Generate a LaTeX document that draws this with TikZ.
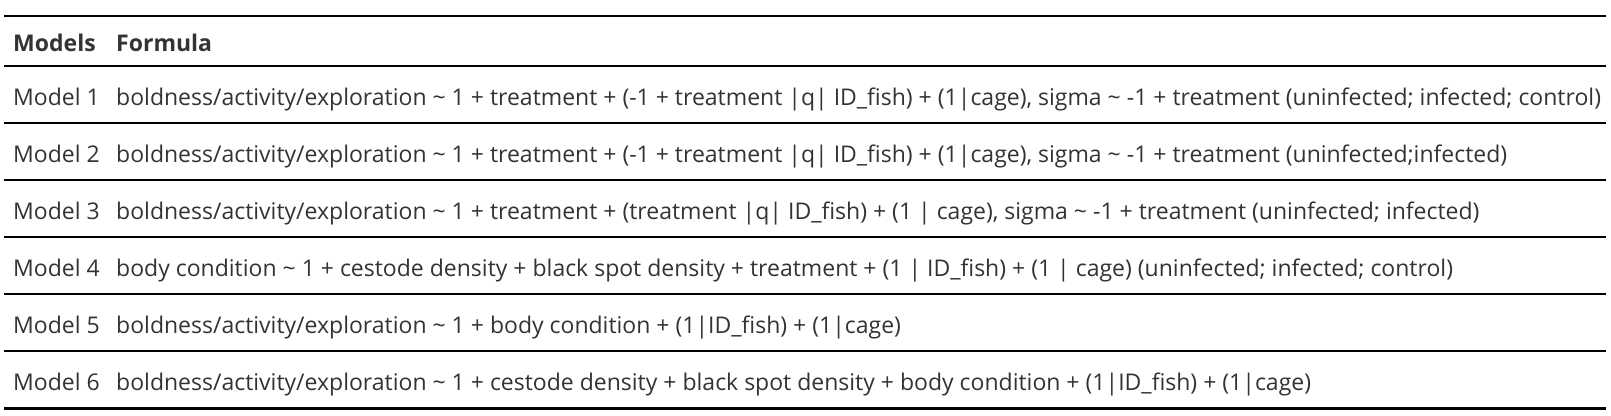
\documentclass[tikz,border=0pt]{standalone}
\usepackage{fontspec}
\setmainfont{Open Sans}
\definecolor{txt}{HTML}{333333}
\tikzset{
  cell/.style={anchor=base west, inner sep=0pt, text=txt, font=\fontsize{23}{27}\selectfont},
  head/.style={cell, font=\fontsize{23}{27}\selectfont\bfseries},
  rule/.style={line width=1.2pt, black},
  thickrule/.style={line width=3pt, black}
}
\begin{document}
\begin{tikzpicture}[x=1pt,y=-1pt]
\useasboundingbox (0,0) rectangle (1611,415);
% rules
\coordinate (l0a) at (4,16);  \coordinate (l0b) at (1606,16);
\coordinate (l1a) at (4,66);  \coordinate (l1b) at (1606,66);
\coordinate (l2a) at (4,123); \coordinate (l2b) at (1606,123);
\coordinate (l3a) at (4,180); \coordinate (l3b) at (1606,180);
\coordinate (l4a) at (4,237); \coordinate (l4b) at (1606,237);
\coordinate (l5a) at (4,294); \coordinate (l5b) at (1606,294);
\coordinate (l6a) at (4,351); \coordinate (l6b) at (1606,351);
\coordinate (l7a) at (4,408); \coordinate (l7b) at (1606,408);
\draw[rule] (l0a) -- (l0b);
\draw[rule] (l1a) -- (l1b);
\draw[rule] (l2a) -- (l2b);
\draw[rule] (l3a) -- (l3b);
\draw[rule] (l4a) -- (l4b);
\draw[rule] (l5a) -- (l5b);
\draw[rule] (l6a) -- (l6b);
\draw[thickrule] (l7a) -- (l7b);
% header
\node[head] (h1) at (13,51.7) {Models};
\node[head] (h2) at (116,51.7) {Formula};
% rows
\node[cell] (m1) at (13,105.5) {Model 1};
\node[cell] (f1) at (116,105.5) {boldness/activity/exploration \textasciitilde{} 1 + treatment + (-1 + treatment |q| ID\_fish) + (1|cage), sigma \textasciitilde{} -1 + treatment (uninfected; infected; control)};
\node[cell] (m2) at (13,162.5) {Model 2};
\node[cell] (f2) at (116,162.5) {boldness/activity/exploration \textasciitilde{} 1 + treatment + (-1 + treatment |q| ID\_fish) + (1|cage), sigma \textasciitilde{} -1 + treatment (uninfected;infected)};
\node[cell] (m3) at (13,219.5) {Model 3};
\node[cell] (f3) at (116,219.5) {boldness/activity/exploration \textasciitilde{} 1 + treatment + (treatment |q| ID\_fish) + (1 | cage), sigma \textasciitilde{} -1 + treatment (uninfected; infected)};
\node[cell] (m4) at (13,276.5) {Model 4};
\node[cell] (f4) at (116,276.5) {body condition \textasciitilde{} 1 + cestode density + black spot density + treatment + (1 | ID\_fish) + (1 | cage) (uninfected; infected; control)};
\node[cell] (m5) at (13,333.5) {Model 5};
\node[cell] (f5) at (116,333.5) {boldness/activity/exploration \textasciitilde{} 1 + body condition + (1|ID\_fish) + (1|cage)};
\node[cell] (m6) at (13,390.5) {Model 6};
\node[cell] (f6) at (116,390.5) {boldness/activity/exploration \textasciitilde{} 1 + cestode density + black spot density + body condition + (1|ID\_fish) + (1|cage)};
\end{tikzpicture}
\end{document}
